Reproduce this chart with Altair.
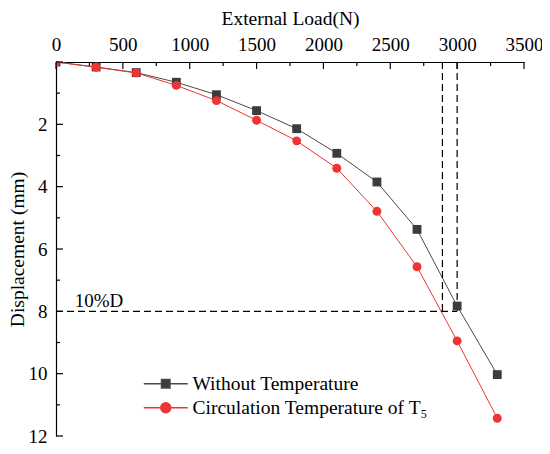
import altair as alt
import pandas as pd

# ---- data ----
loads = [0, 300, 600, 900, 1200, 1500, 1800, 2100, 2400, 2700, 3000, 3300]
without_temp = [0, 0.16, 0.34, 0.65, 1.05, 1.56, 2.14, 2.93, 3.85, 5.37, 7.83, 10.03]
circ_temp = [0, 0.17, 0.35, 0.75, 1.24, 1.87, 2.53, 3.41, 4.79, 6.57, 8.95, 11.43]
series_names = ["Without Temperature", "Circulation Temperature of T\u2085"]

x_major = [0, 500, 1000, 1500, 2000, 2500, 3000, 3500]
x_minor = [250, 750, 1250, 1750, 2250, 2750, 3250]
y_major = [0, 2, 4, 6, 8, 10, 12]
y_minor = [1, 3, 5, 7, 9, 11]
y_labels = [2, 4, 6, 8, 10, 12]

ref_load_a = 2890
ref_load_b = 3000
ref_disp = 8
ref_text = "10%D"
ref_text_load = 140

line_colors = ["#4a4a4a", "#ee3434"]
marker_colors = ["#3c3c3c", "#ee3434"]

FONT = "Liberation Serif"

df = pd.DataFrame({
    "load": loads * 2,
    "disp": without_temp + circ_temp,
    "series": [series_names[0]] * len(loads) + [series_names[1]] * len(loads),
})

xscale = alt.Scale(domain=[0, 3500], nice=False, zero=False)
yscale = alt.Scale(domain=[0, 12], nice=False, reverse=True)
cscale = alt.Scale(domain=series_names, range=line_colors)
mscale = alt.Scale(domain=series_names, range=marker_colors)

# legend symbols: a line with the marker in its middle
square_sym = "M-4.4,0H-0.85M0.85,0H4.4M-0.85,-0.85H0.85V0.85H-0.85Z"
circle_sym = "M-4.4,0H-1M1,0H4.4M1,0A1,1,0,1,1,-1,0A1,1,0,1,1,1,0Z"
legend_syms = [square_sym, circle_sym]

x_axis = alt.Axis(
    orient="top", values=x_major, format="d", title="External Load(N)", grid=False,
    ticks=False, tickSize=0, labelPadding=8, titlePadding=7, labelFlush=False,
    labelFont=FONT, labelFontSize=19, labelColor="black",
    titleFont=FONT, titleFontSize=19.5, titleFontWeight="normal", titleColor="black",
    domainColor="black", domainWidth=1.2,
)
y_axis = alt.Axis(
    orient="left", values=y_labels, format="d", title="Displacement (mm)", grid=False,
    ticks=False, tickSize=0, labelPadding=9, titlePadding=1,
    labelFont=FONT, labelFontSize=19, labelColor="black",
    titleFont=FONT, titleFontSize=19.5, titleFontWeight="normal", titleColor="black",
    domainColor="black", domainWidth=1.2,
)


def X(field):
    return alt.X(field, scale=xscale, axis=x_axis)


def Y(field):
    return alt.Y(field, scale=yscale, axis=y_axis)


lines = alt.Chart(df).mark_line(strokeWidth=1).encode(
    x=X("load:Q"), y=Y("disp:Q"),
    color=alt.Color("series:N", scale=cscale, legend=None),
    detail="series:N",
)

squares = alt.Chart(df).transform_filter(
    alt.datum.series == series_names[0]
).mark_square(size=78, opacity=1, clip=True).encode(
    x=X("load:Q"), y=Y("disp:Q"),
    fill=alt.Fill("series:N", scale=mscale, legend=None),
)

circles = alt.Chart(df).transform_filter(
    alt.datum.series == series_names[1]
).mark_circle(size=80, opacity=1, clip=True).encode(
    x=X("load:Q"), y=Y("disp:Q"),
    fill=alt.Fill("series:N", scale=mscale, legend=None),
)

# dashed reference lines
ref_df = pd.DataFrame({
    "x": [0, ref_load_a, ref_load_b],
    "x2": [ref_load_b, ref_load_a, ref_load_b],
    "y": [ref_disp, 0, 0],
    "y2": [ref_disp, ref_disp, ref_disp],
})
refs = alt.Chart(ref_df).mark_rule(color="black", strokeWidth=1.2, strokeDash=[7, 4]).encode(
    x=X("x:Q"), x2="x2:Q", y=Y("y:Q"), y2="y2:Q",
)
ref_label = alt.Chart(pd.DataFrame({"x": [ref_text_load], "y": [ref_disp], "t": [ref_text]})).mark_text(
    align="left", baseline="alphabetic", dy=-4, font=FONT, fontSize=19, color="black"
).encode(x=X("x:Q"), y=Y("y:Q"), text="t:N")


# inward ticks
def xticks(vals, length):
    return alt.Chart(pd.DataFrame({"v": vals})).mark_rule(color="black", strokeWidth=1.2).encode(
        x=X("v:Q"), y=alt.value(0), y2=alt.value(length)
    )


def yticks(vals, length):
    return alt.Chart(pd.DataFrame({"v": vals})).mark_rule(color="black", strokeWidth=1.2).encode(
        y=Y("v:Q"), x=alt.value(0), x2=alt.value(length)
    )


# one legend per series (carrier layers draw nothing in the plot)
def legend_layer(i, legend_y):
    return alt.Chart(df).transform_filter("false").mark_point(
        filled=True, fill=marker_colors[i], stroke=line_colors[i], strokeWidth=1.1,
        opacity=1, size=100,
    ).encode(
        x=X("load:Q"), y=Y("disp:Q"),
        shape=alt.Shape(
            "series:N",
            scale=alt.Scale(domain=[series_names[i]], range=[legend_syms[i]]),
            legend=alt.Legend(title=None, orient="none", legendX=100, legendY=legend_y),
        ),
    )


chart = alt.layer(
    lines, refs, squares, circles, ref_label,
    xticks(x_major, 7), xticks(x_minor, 4), yticks(y_major, 7), yticks(y_minor, 4),
    legend_layer(0, 312), legend_layer(1, 336),
).resolve_scale(shape="independent").properties(
    width=468, height=374,
    autosize=alt.AutoSizeParams(type="none"),
    padding={"left": 48, "top": 54, "right": 18, "bottom": 10},
).configure_view(stroke=None).configure_legend(
    padding=0,
    labelFont=FONT, labelFontSize=19.5, labelColor="black", labelLimit=500,
    labelOffset=17, symbolSize=100,
)

chart.save("out.html", embed_options={"renderer": "svg", "actions": False})
